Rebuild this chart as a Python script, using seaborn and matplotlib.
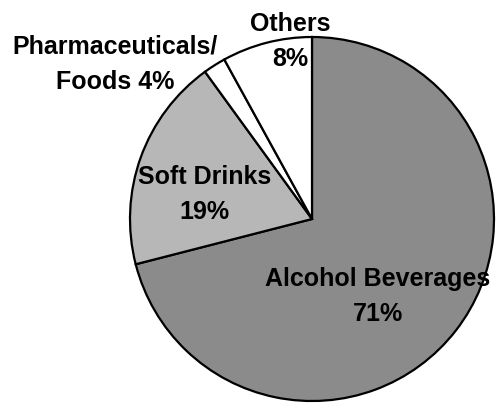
import seaborn as sns
import matplotlib.pyplot as plt

# slice sizes read from the drawn wedges (labels keep the printed text)
segments = ['Alcohol Beverages', 'Soft Drinks', 'Pharmaceuticals/Foods', 'Others']
shares = [71, 19, 2, 8]
label_text = ['Alcohol Beverages\n71%', 'Soft Drinks\n19%', 'Pharmaceuticals/\nFoods 4%', 'Others\n8%']
slice_colors = ['#8b8b8b', '#b7b7b7', 'white', 'white']
# where each label block sits (pie radius = 1)
label_pos = [(0.36, -0.42), (-0.59, 0.14), (-1.08, 0.855), (-0.12, 0.98)]

sns.set_style('white')
plt.rcParams['font.family'] = ['Liberation Sans', 'DejaVu Sans']

fig = plt.figure(figsize=(4.97, 4.06), dpi=100)
ax = fig.add_axes([0, 0, 1, 1])

ax.pie(shares, colors=slice_colors, startangle=90, counterclock=False,
       wedgeprops={'edgecolor': 'black', 'linewidth': 1.6})

for txt, (x, y) in zip(label_text, label_pos):
    ax.text(x, y, txt, ha='center', va='center', fontsize=18,
            fontweight='bold', linespacing=1.6, color='black')

ax.set_aspect('auto')
ax.set_xlim(-312 / 182, (497 - 312) / 182)
ax.set_ylim(-(406 - 220) / 182, 220 / 182)
ax.axis('off')

fig.savefig('out.png', dpi=100, facecolor='white')
